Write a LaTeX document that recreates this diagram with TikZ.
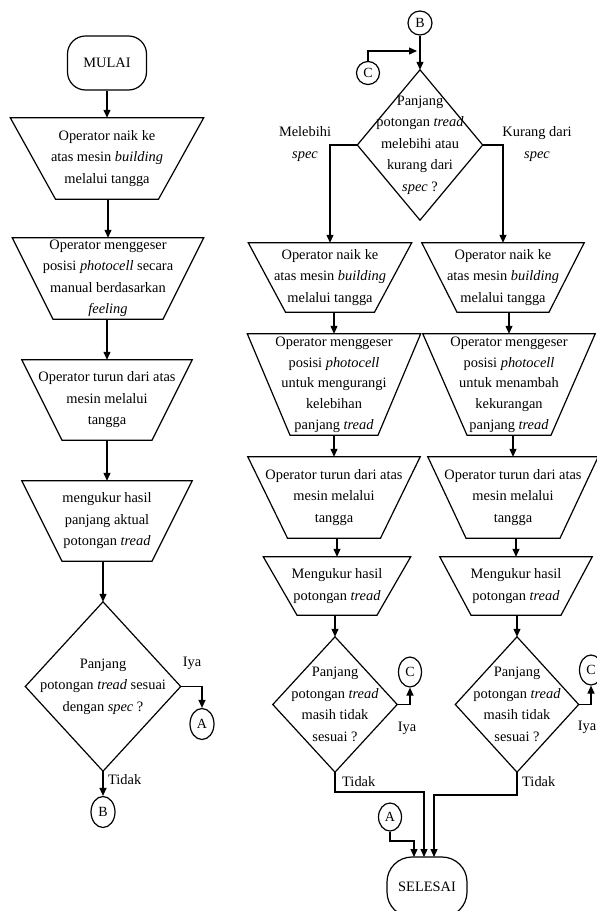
\documentclass[tikz,border=0pt]{standalone}
\usepackage{fontspec}
\setmainfont{Liberation Serif}
\usetikzlibrary{shapes.geometric,arrows.meta,calc}

\tikzset{
  x=1pt, y=-1pt,
  flow/.style={line width=1.2pt, -{Triangle[length=8pt,width=7pt]}},
  boxtext/.style={inner sep=0pt, align=center, font=\fontsize{14.4}{21.5}\selectfont},
  tight/.style={font=\fontsize{14.4}{20.7}\selectfont},
  outline/.style={draw, line width=1.2pt, line join=miter},
  terminal/.style={draw, line width=1.2pt, rounded corners=18pt, align=center, inner sep=0pt, font=\fontsize{14.4}{21.5}\selectfont},
  connector/.style={draw, ellipse, line width=1.2pt, inner sep=0pt, font=\fontsize{14}{16}\selectfont},
  tag/.style={inner sep=0pt, align=center, font=\fontsize{14.4}{21.5}\selectfont},
}

% process box: inverted trapezoid around a named node
% #1 name, #2 cx, #3 cy, #4 height, #5 top width, #6 bottom width, #7 options, #8 text
\newcommand\trapbox[8]{%
  \node[boxtext, #7, minimum width=#5pt, minimum height=#4pt] (#1) at (#2,#3) {#8};
  \draw[outline] (#1.north west) -- (#1.north east)
    -- ($(#1.south)+({#6/2},0)$) -- ($(#1.south)+({-#6/2},0)$) -- cycle;
}

% decision: diamond through the mid-points of a named node
% #1 name, #2 cx, #3 cy, #4 width, #5 height, #6 text
\newcommand\decision[6]{%
  \node[boxtext, minimum width=#4pt, minimum height=#5pt] (#1) at (#2,#3) {#6};
  \draw[outline] (#1.north) -- (#1.east) -- (#1.south) -- (#1.west) -- cycle;
}

\begin{document}
\begin{tikzpicture}
\path[use as bounding box] (0,0) rectangle (597,911);
\clip (0,0) rectangle (597,911);

% ---------------- left column ----------------
\node[terminal, minimum width=79pt, minimum height=54pt] (start) at (107,63) {MULAI};

\trapbox{l1}{107}{158.5}{81}{193}{103}{}{Operator naik ke\\atas mesin \textit{building}\\melalui tangga}
\trapbox{l2}{108}{278.5}{81}{191}{110}{}{Operator menggeser\\posisi \textit{photocell} secara\\manual berdasarkan\\\textit{feeling}}
\trapbox{l3}{107}{400}{80}{170}{90}{}{Operator turun dari atas\\mesin melalui\\tangga}
\trapbox{l4}{107}{521}{80}{170}{90}{}{mengukur hasil\\panjang aktual\\potongan \textit{tread}}
\decision{dl}{103}{686.5}{155}{169}{Panjang\\potongan \textit{tread} sesuai\\dengan \textit{spec} ?}

\node[connector, minimum width=24pt, minimum height=31pt] (a1) at (202,724) {A};
\node[connector, minimum width=24pt, minimum height=31pt] (b1) at (103,812) {B};
\node[tag] (iya1) at (192,663) {Iya};
\node[tag, anchor=west] (tidak1) at (108,780) {Tidak};

\draw[flow] (l1.north |- start.south) -- (l1.north);
\draw[flow] (l2.north |- l1.south) -- (l2.north);
\draw[flow] (l3.north |- l2.south) -- (l3.north);
\draw[flow] (l4.north |- l3.south) -- (l4.north);
\draw[flow] (dl.north |- l4.south) -- (dl.north);
\draw[flow] (dl.east) -| (a1.north);
\draw[flow] (dl.south) -- (b1.north);

% ---------------- right column ----------------
\node[connector, minimum width=24pt, minimum height=24pt] (b2) at (420,23) {B};
\node[connector, minimum width=23pt, minimum height=23pt] (c2) at (368,73) {C};
\coordinate (cjoin) at (417,51);

\decision{dq}{420}{145}{125}{150}{Panjang\\potongan \textit{tread}\\melebihi atau\\kurang dari\\\textit{spec} ?}
\node[tag] (over) at (305,144) {Melebihi\\\textit{spec}};
\node[tag] (under) at (537,144) {Kurang dari\\\textit{spec}};

\draw[flow] (b2.south) -- (dq.north);
\draw[flow] (c2.north) |- (cjoin);

\trapbox{rl1}{330}{277.5}{69}{163}{89}{}{Operator naik ke\\atas mesin \textit{building}\\melalui tangga}
\trapbox{rr1}{503}{277.5}{69}{162}{92}{}{Operator naik ke\\atas mesin \textit{building}\\melalui tangga}
\trapbox{rl2}{334}{384.5}{101}{173}{88}{tight}{Operator menggeser\\posisi \textit{photocell}\\untuk mengurangi\\kelebihan\\panjang \textit{tread}}
\trapbox{rr2}{509}{384.5}{101}{172}{84}{tight}{Operator menggeser\\posisi \textit{photocell}\\untuk menambah\\kekurangan\\panjang \textit{tread}}
\trapbox{rl3}{334}{497.5}{81}{172}{93}{}{Operator turun dari atas\\mesin melalui\\tangga}
\trapbox{rr3}{513}{497.5}{81}{170}{94}{}{Operator turun dari atas\\mesin melalui\\tangga}
\trapbox{rl4}{337}{586}{58}{147}{80}{}{Mengukur hasil\\potongan \textit{tread}}
\trapbox{rr4}{516}{586}{58}{152}{90}{}{Mengukur hasil\\potongan \textit{tread}}
\decision{drl}{335}{704.5}{124}{135}{Panjang\\potongan \textit{tread}\\masih tidak\\sesuai ?}
\decision{drr}{517}{704.5}{123}{135}{Panjang\\potongan \textit{tread}\\masih tidak\\sesuai ?}

\node[connector, minimum width=23pt, minimum height=30pt] (cl) at (410,672) {C};
\node[connector, minimum width=23pt, minimum height=30pt] (cr) at (591,670) {C};
\node[tag] (iya2) at (407,728) {Iya};
\node[tag, anchor=east] (iya3) at (596.5,727) {Iya};
\node[tag, anchor=west] (tidak2) at (342,782) {Tidak};
\node[tag, anchor=west] (tidak3) at (522,782) {Tidak};

\node[connector, minimum width=23pt, minimum height=28pt] (a2) at (390,817) {A};
\node[terminal, rounded corners=25pt, minimum width=80pt, minimum height=60pt] (stop) at (427,887) {SELESAI};
\coordinate (inA) at (414,857);
\coordinate (inL) at (424,857);
\coordinate (inR) at (434,857);

\draw[flow] (dq.west) -| (rl1.north);
\draw[flow] (dq.east) -| (rr1.north);
\draw[flow] (rl2.north |- rl1.south) -- (rl2.north);
\draw[flow] (rr2.north |- rr1.south) -- (rr2.north);
\draw[flow] (rl3.north |- rl2.south) -- (rl3.north);
\draw[flow] (rr3.north |- rr2.south) -- (rr3.north);
\draw[flow] (rl4.north |- rl3.south) -- (rl4.north);
\draw[flow] (rr4.north |- rr3.south) -- (rr4.north);
\draw[flow] (drl.north |- rl4.south) -- (drl.north);
\draw[flow] (drr.north |- rr4.south) -- (drr.north);
\draw[flow] (drl.east) -| (cl.south);
\draw[flow] (drr.east) -| (cr.south);

\draw[flow] (drl.south) |- ($(inL)+(0,-65)$) -- (inL);
\draw[flow] (drr.south) |- ($(inR)+(0,-62)$) -- (inR);
\draw[flow] (a2.south) |- ($(inA)+(0,-16)$) -- (inA);
\end{tikzpicture}
\end{document}
